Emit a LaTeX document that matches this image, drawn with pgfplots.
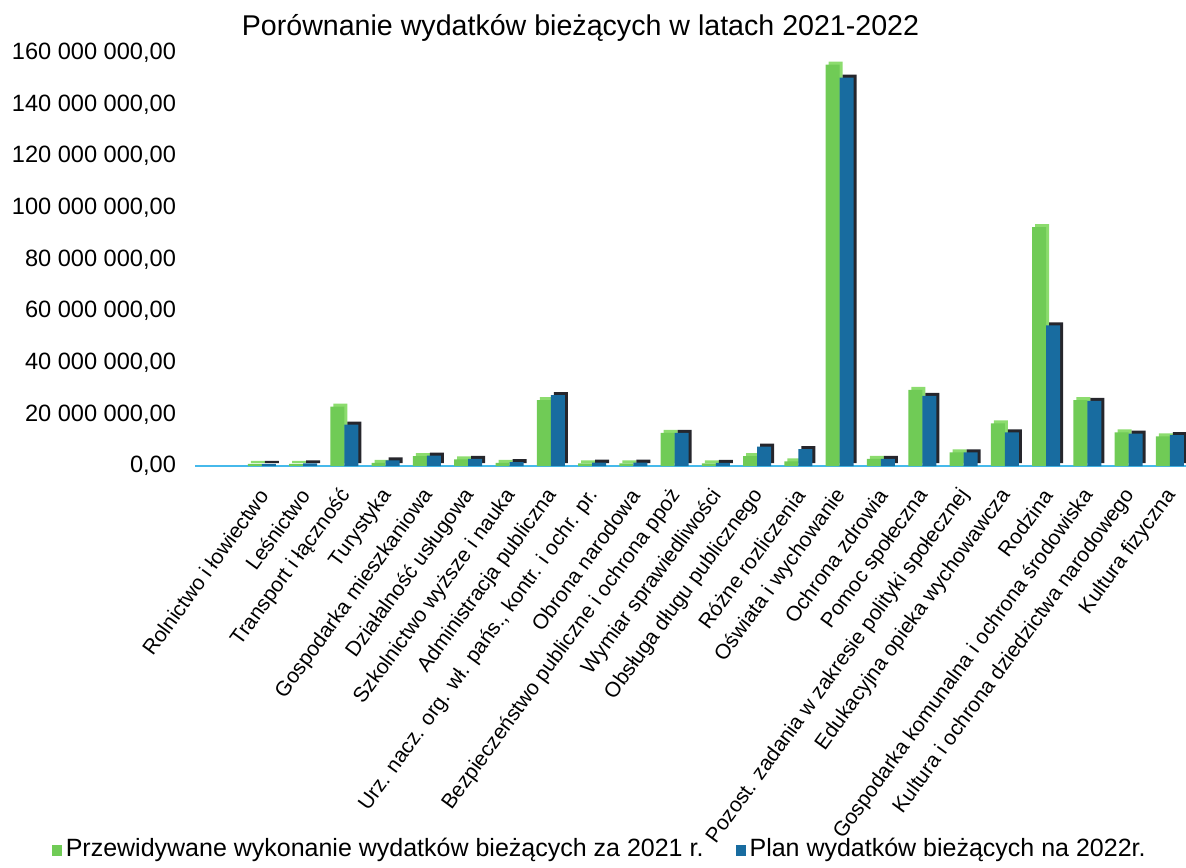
\documentclass[border=0pt]{standalone}
\usepackage{pgfplots}
\pgfplotsset{compat=1.18}
\usepackage{pgfplotstable}
\usepackage{fontspec}
\setmainfont{Liberation Sans}
\definecolor{cgreen}{RGB}{112,203,86}
\definecolor{cgreentop}{RGB}{140,220,110}
\definecolor{cblue}{RGB}{24,108,160}
\definecolor{cshadow}{RGB}{38,38,44}
\definecolor{floorcyan}{RGB}{70,185,235}

\pgfplotstableread{
x a b
0 800000 800000
1 800000 1000000
2 23000000 16000000
3 1200000 2200000
4 3800000 4000000
5 2600000 2800000
6 1200000 1500000
7 25500000 27500000
8 1000000 1300000
9 1000000 1300000
10 12800000 12800000
11 1000000 1200000
12 3800000 7500000
13 1800000 6500000
14 155500000 150500000
15 2800000 2800000
16 29500000 27200000
17 5300000 5300000
18 16500000 13000000
19 92500000 54500000
20 25500000 25200000
21 13000000 12500000
22 11500000 12000000
}\data

\begin{document}
\begin{tikzpicture}
\useasboundingbox (-97.5pt,-200.5pt) rectangle (495.5pt,233pt);
\begin{axis}[
  at={(0pt,0pt)}, anchor=south west,
  scale only axis, width=495.5pt, height=206.5pt,
  xmin=-1.62, xmax=22.39, ymin=0, ymax=160000000,
  clip=false,
  scaled y ticks=false,
  axis x line*=bottom, axis y line*=left,
  x axis line style={draw=floorcyan, line width=1.3pt},
  y axis line style={draw=none},
  major tick length=0pt,
  ybar, bar width=7pt,
  ytick={0,20000000,40000000,60000000,80000000,100000000,120000000,140000000,160000000},
  yticklabels={{0,00},{20 000 000,00},{40 000 000,00},{60 000 000,00},{80 000 000,00},{100 000 000,00},{120 000 000,00},{140 000 000,00},{160 000 000,00}},
  yticklabel style={font=\fontsize{11.8}{13}\selectfont, anchor=east, xshift=-6pt},
  xtick={0,...,22},
  xticklabels={
    {Rolnictwo i łowiectwo},
    {Leśnictwo},
    {Transport i łączność},
    {Turystyka},
    {Gospodarka mieszkaniowa},
    {Działalność usługowa},
    {Szkolnictwo wyższe i nauka},
    {Administracja publiczna},
    {Urz. nacz. org. wł. pańs., kontr. i ochr. pr.},
    {Obrona narodowa},
    {Bezpieczeństwo publiczne i ochrona ppoż},
    {Wymiar sprawiedliwości},
    {Obsługa długu publicznego},
    {Różne rozliczenia},
    {Oświata i wychowanie},
    {Ochrona zdrowia},
    {Pomoc społeczna},
    {Pozost. zadania w zakresie polityki społecznej},
    {Edukacyjna opieka wychowawcza},
    {Rodzina},
    {Gospodarka komunalna i ochrona środowiska},
    {Kultura i ochrona dziedzictwa narodowego},
    {Kultura fizyczna}},
  xticklabel style={xshift=1.5pt, yshift=-12pt, rotate=54, anchor=east, font=\fontsize{10.5}{12}\selectfont, inner sep=1pt},
  title={Porównanie wydatków bieżących w latach 2021-2022},
  title style={at={(0.389,1)}, anchor=south, font=\fontsize{14.3}{16}\selectfont, yshift=-4pt},
  legend style={at={(-0.151,-0.927)}, anchor=west, draw=none, fill=none,
    font=\fontsize{12.5}{14}\selectfont, legend columns=2,
    /tikz/every even column/.append style={column sep=14pt}},
  legend image code/.code={\fill[#1] (0pt,-3.5pt) rectangle (5pt,2pt);},
]
\addplot[forget plot, fill=cgreentop, draw=none, bar shift=-2pt, yshift=1.5pt] table[x=x,y=a] {\data};
\addplot[fill=cgreen, draw=none, bar shift=-3.5pt] table[x=x,y=a] {\data};
\addplot[forget plot, fill=cshadow, draw=none, bar shift=5pt, yshift=1.5pt] table[x=x,y=b] {\data};
\addplot[fill=cblue, draw=none, bar shift=3.5pt] table[x=x,y=b] {\data};
\legend{Przewidywane wykonanie wydatków bieżących za 2021 r., Plan wydatków bieżących na 2022r.}
\end{axis}
\end{tikzpicture}
\end{document}
